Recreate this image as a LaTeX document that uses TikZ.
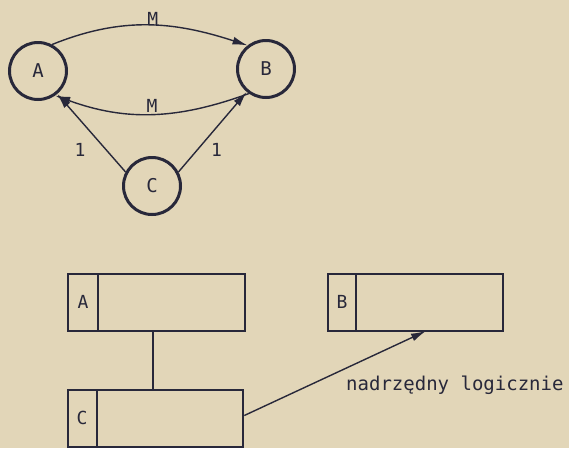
\documentclass[tikz,border=0pt]{standalone}
\usepackage{fontspec}
\setmainfont{DejaVu Sans Mono}
\usetikzlibrary{arrows.meta}
\definecolor{paper}{RGB}{226,214,184}
\definecolor{ink}{RGB}{40,40,58}
\tikzset{
  ent/.style={circle,draw=ink,line width=3pt,minimum size=57pt,inner sep=0pt,font=\fontsize{19}{19}\selectfont,text=ink},
  rel/.style={draw=ink,line width=1.4pt,-{Latex[length=15pt,width=8pt]}},
  lbl/.style={font=\fontsize{18}{18}\selectfont,text=ink,inner sep=1pt},
  recbox/.style={draw=ink,line width=2.6pt,minimum height=57pt,inner sep=0pt},
  keylbl/.style={font=\fontsize{18}{18}\selectfont,text=ink}
}
\begin{document}
\begin{tikzpicture}[x=1pt,y=-1pt]
  \fill[paper] (0,0) rectangle (569,448);
  \useasboundingbox (0,0) rectangle (569,448);

  % entity graph
  \node[ent] (A) at (38,71) {A};
  \node[ent] (B) at (266,69) {B};
  \node[ent] (C) at (152,186) {C};

  \draw[rel] (A.62) to[out=22,in=162] node[lbl,above,pos=0.52,yshift=-2pt] {M} (B.128);
  \draw[rel] (B.-125) to[out=-160,in=-20] node[lbl,above,pos=0.5] {M} (A.-55);
  \draw[rel] (C.152) -- node[lbl,left,pos=0.3,xshift=-18pt,yshift=-1pt] {1} (A.-50);
  \draw[rel] (C.28) -- node[lbl,right,pos=0.32,xshift=9pt,yshift=-4pt] {1} (B.-130);

  % record layout
  \node[recbox,minimum width=177pt] (RA) at (156.5,302.5) {};
  \node[recbox,minimum width=175pt] (RB) at (415.5,302.5) {};
  \node[recbox,minimum width=175pt] (RC) at (155.5,418.5) {};
  \draw[ink,line width=1.4pt] (98,273) -- (98,332);
  \draw[ink,line width=1.4pt] (356,273) -- (356,332);
  \draw[ink,line width=1.4pt] (97,390) -- (97,447);
  \node[keylbl] (ka) at (83,302) {A};
  \node[keylbl] (kb) at (342,302) {B};
  \node[keylbl] (kc) at (82,418) {C};

  \coordinate (RAb) at (153,332);
  \coordinate (RCt) at (153,390);
  \draw[ink,line width=1.4pt] (RAb) -- (RCt);

  \coordinate (tip) at (426,331);
  \draw[rel] (RC.east) ++(0,-3) -- (tip);
  \node[font=\fontsize{19}{19}\selectfont,text=ink,anchor=west,inner sep=0pt] (nl) at (346,385) {nadrzędny logicznie};
\end{tikzpicture}
\end{document}
